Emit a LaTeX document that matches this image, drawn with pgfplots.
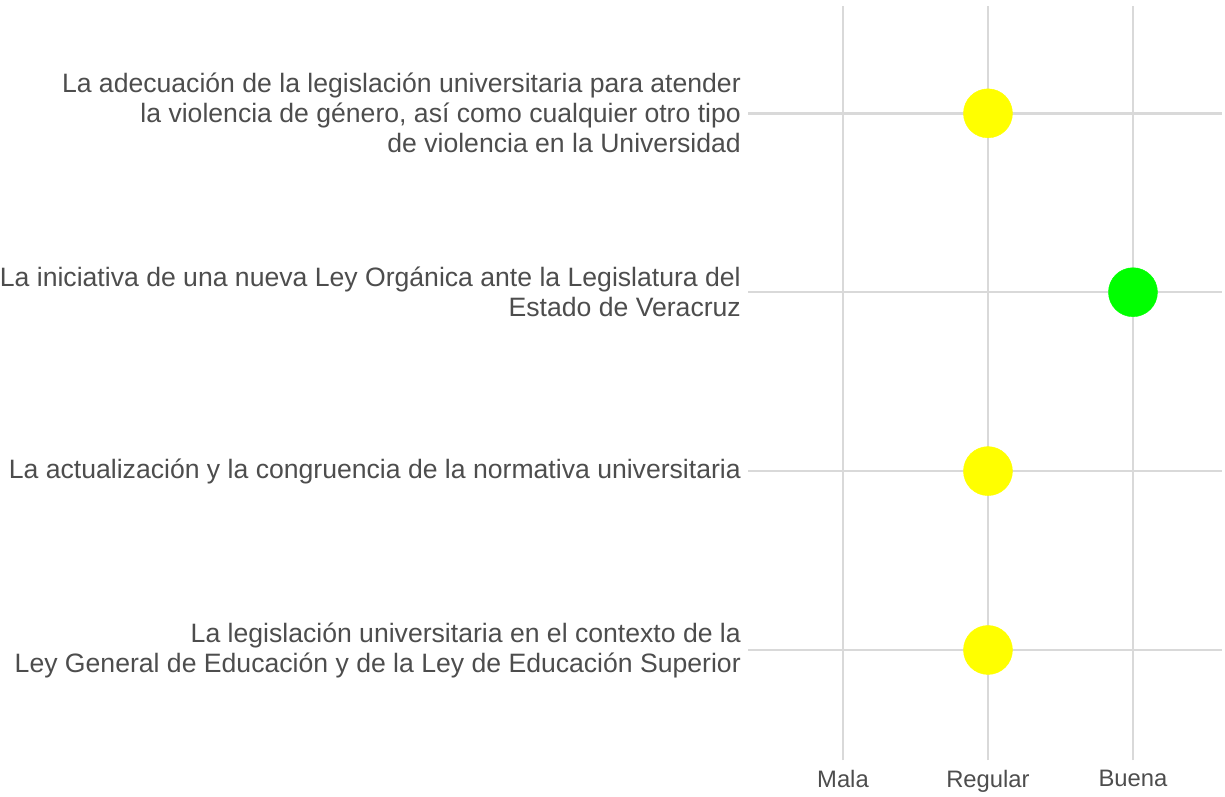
\documentclass[border=0pt]{standalone}
\usepackage{pgfplots}
\pgfplotsset{compat=1.18}
\usepackage{fontspec}
\setmainfont{Liberation Sans}
\definecolor{gridc}{HTML}{D9D9D9}
\definecolor{txt}{HTML}{4D4D4D}
\definecolor{yel}{HTML}{FFFF00}
\definecolor{grn}{HTML}{00FF00}
\begin{document}
\begin{tikzpicture}
\begin{axis}[
  at={(748bp,37bp)}, anchor=south west,
  scale only axis, width=474bp, height=754bp,
  xmin=0.345, xmax=3.614, ymin=0.385, ymax=4.6,
  axis line style={draw=none},
  major tick length=0pt,
  xtick={1,2,3}, xticklabels={Mala,Regular,Buena},
  ytick={1,2,3,4},
  yticklabels={
    {La legislación universitaria en el contexto de la\\Ley General de Educación y de la Ley de Educación Superior},
    {La actualización y la congruencia de la normativa universitaria},
    {La iniciativa de una nueva Ley Orgánica ante la Legislatura del\\Estado de Veracruz},
    {La adecuación de la legislación universitaria para atender\\la violencia de género, así como cualquier otro tipo\\de violencia en la Universidad}},
  grid=major,
  major grid style={draw=gridc, line width=2.5bp},
  /pgf/number format/assume math mode=true,
  ticklabel style={text=txt},
  yticklabel style={font=\fontsize{26.6bp}{30bp}\selectfont, align=right, inner sep=0pt, xshift=-7bp},
  xticklabel style={font=\fontsize{23.8bp}{28bp}\selectfont, inner sep=0pt, yshift=-10bp},
  clip=false,
]
\addplot[only marks, mark=*, mark size=24.5bp, color=yel, mark options={fill=yel, draw=yel}] coordinates {(2,1) (2,2) (2,4)};
\addplot[only marks, mark=*, mark size=24.5bp, color=grn, mark options={fill=grn, draw=grn}] coordinates {(3,3)};
\end{axis}
\pgfresetboundingbox
\path (0,0) rectangle (1225bp,797bp);
\end{tikzpicture}
\end{document}
